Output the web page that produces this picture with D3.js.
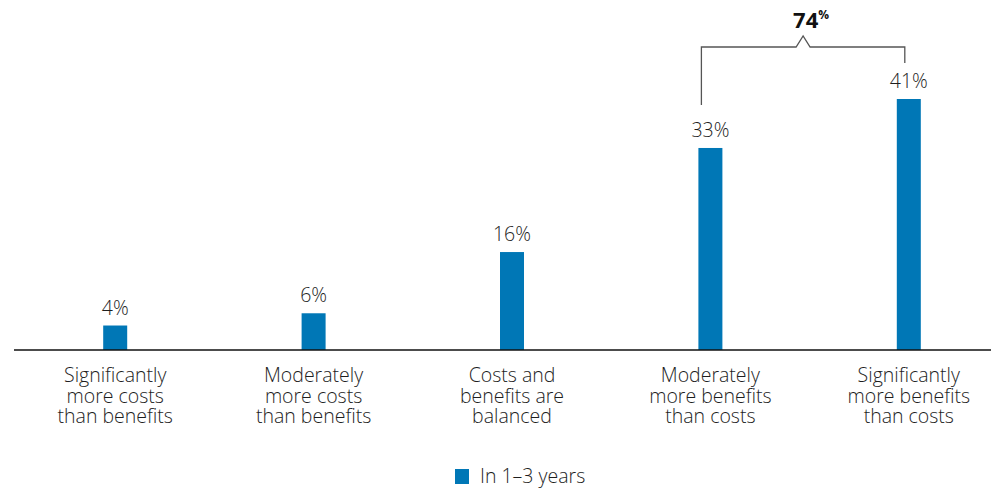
<!DOCTYPE html>
<html>
<head>
<meta charset="utf-8">
<script src="https://cdn.jsdelivr.net/npm/d3@7"></script>
<style>
  body { margin: 0; background: #fff; }
  text { font-family: "Open Sans", "Noto Sans", sans-serif; }
</style>
</head>
<body>
<div id="chart"></div>
<script>
const categories = [
  ["Significantly", "more costs", "than benefits"],
  ["Moderately", "more costs", "than benefits"],
  ["Costs and", "benefits are", "balanced"],
  ["Moderately", "more benefits", "than costs"],
  ["Significantly", "more benefits", "than costs"]
]
const values = [4, 6, 16, 33, 41]
const seriesName = "In 1\u20133 years"
const bracketLabel = "74"

const width = 991
const height = 488
const baseline = 350
const barWidth = 24
const blue = "#0077b6"
const ink = "#1e1e1e"

const svg = d3.select("#chart")
  .append("svg")
  .attr("width", width)
  .attr("height", height)

const xScale = d3.scaleBand()
  .domain(d3.range(values.length))
  .range([16, 1008])

const yScale = d3.scaleLinear()
  .domain([0, 41])
  .range([baseline, 99])

const cx = i => xScale(i) + xScale.bandwidth() / 2

// bars
svg.append("g")
  .selectAll("rect")
  .data(values)
  .join("rect")
  .attr("x", (d, i) => cx(i) - barWidth / 2)
  .attr("y", d => yScale(d))
  .attr("width", barWidth)
  .attr("height", d => baseline - yScale(d))
  .attr("fill", blue)

// value labels
svg.append("g")
  .selectAll("text")
  .data(values)
  .join("text")
  .attr("x", (d, i) => cx(i))
  .attr("y", d => yScale(d) - 11)
  .attr("text-anchor", "middle")
  .attr("font-size", 19.5)
  .attr("font-weight", 300)
  .attr("fill", ink)
  .text(d => d + "%")

// axis line
svg.append("line")
  .attr("x1", 14).attr("x2", width)
  .attr("y1", baseline).attr("y2", baseline)
  .attr("stroke", "#111")
  .attr("stroke-width", 1.5)

// category labels, one text per line
const catLines = categories.flatMap((lines, i) => lines.map((line, j) => ({ line, i, j })))
svg.append("g")
  .selectAll("text")
  .data(catLines)
  .join("text")
  .attr("x", d => cx(d.i))
  .attr("y", d => 382 + d.j * 20.5)
  .attr("text-anchor", "middle")
  .attr("font-size", 19.5)
  .attr("font-weight", 300)
  .attr("fill", ink)
  .text(d => d.line)

// bracket over the two "more benefits" bars
const bx1 = cx(3) - 9
const bx2 = cx(4) - 4
const by = 47
const mid = (bx1 + bx2) / 2
svg.append("path")
  .attr("d", `M${bx1},${yScale(values[3]) - 43} V${by} H${mid - 7} L${mid},${by - 11} L${mid + 7},${by} H${bx2} V${yScale(values[4]) - 36}`)
  .attr("fill", "none")
  .attr("stroke", "#555")
  .attr("stroke-width", 1.3)

const total = svg.append("text")
  .attr("x", mid + 8)
  .attr("y", 28)
  .attr("text-anchor", "middle")
  .attr("font-weight", "bold")
  .attr("fill", "#111")
total.append("tspan").attr("font-size", 22).text(bracketLabel)
total.append("tspan").attr("font-size", 12).attr("dy", -9).text("%")

// legend
const legend = svg.append("g").attr("transform", "translate(455,469)")
legend.append("rect")
  .attr("width", 14).attr("height", 15)
  .attr("fill", blue)
legend.append("text")
  .attr("x", 25).attr("y", 14)
  .attr("font-size", 19.5)
  .attr("font-weight", 300)
  .attr("fill", ink)
  .text(seriesName)
</script>
</body>
</html>
